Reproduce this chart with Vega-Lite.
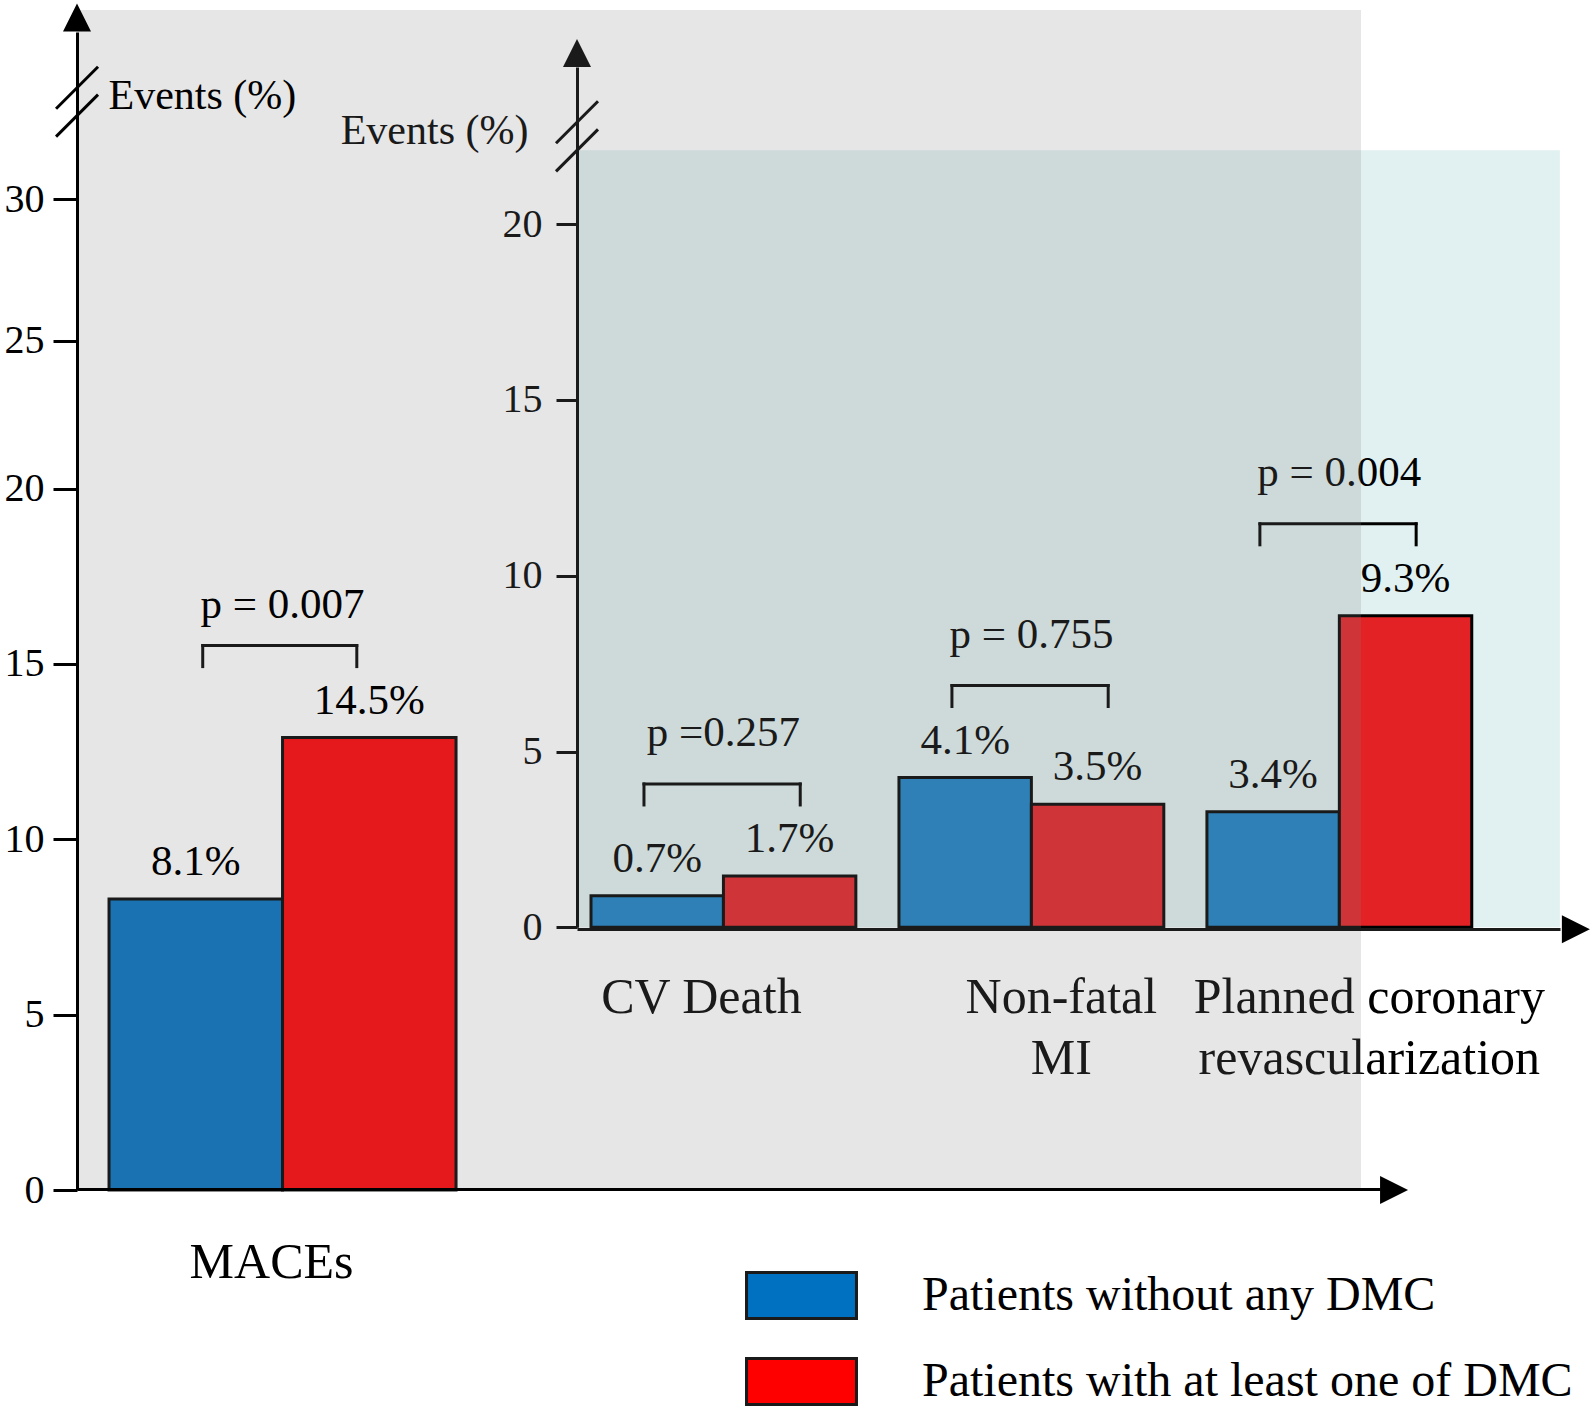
{
  "$schema": "https://vega.github.io/schema/vega-lite/v6.json",
  "width": 1284,
  "height": 1179,
  "autosize": {"type": "none"},
  "padding": {"left": 77, "top": 10, "right": 232, "bottom": 225},
  "background": "#ffffff",
  "config": {
    "font": "Liberation Serif",
    "view": {"stroke": null},
    "axis": {"grid": false, "labelOverlap": false, "titleFontWeight": "normal", "labelFontWeight": "normal", "labelLimit": 0}
  },
  "datasets": {
    "macesBars": [
      {"category": "MACEs", "group": "Patients without any DMC", "events": 8.3, "label": "8.1%", "p": "p = 0.007"},
      {"category": "MACEs", "group": "Patients with at least one of DMC", "events": 12.9, "label": "14.5%", "p": "p = 0.007"}
    ],
    "componentBars": [
      {"category": "CV Death", "group": "Patients without any DMC", "events": 0.9, "label": "0.7%", "p": "p =0.257"},
      {"category": "CV Death", "group": "Patients with at least one of DMC", "events": 1.46, "label": "1.7%", "p": "p =0.257"},
      {"category": "Non-fatal MI", "group": "Patients without any DMC", "events": 4.26, "label": "4.1%", "p": "p = 0.755"},
      {"category": "Non-fatal MI", "group": "Patients with at least one of DMC", "events": 3.5, "label": "3.5%", "p": "p = 0.755"},
      {"category": "Planned coronary revascularization", "group": "Patients without any DMC", "events": 3.29, "label": "3.4%", "p": "p = 0.004"},
      {"category": "Planned coronary revascularization", "group": "Patients with at least one of DMC", "events": 8.86, "label": "9.3%", "p": "p = 0.004"}
    ],
    "componentLabels": [
      {"category": "CV Death", "text": "CV Death"},
      {"category": "Non-fatal MI", "text": "Non-fatal\nMI"},
      {"category": "Planned coronary revascularization", "text": "Planned coronary\nrevascularization"}
    ]
  },
  "layer": [
    {
      "data": {"name": "componentBars"},
      "layer": [
        {
          "data": {"values": [{}]},
          "mark": {"type": "rect", "fill": "#e1f1f1"},
          "encoding": {
            "x": {"datum": "CV Death", "bandPosition": -0.0529},
            "x2": {"datum": "Planned coronary revascularization", "bandPosition": 1.3328},
            "y": {"datum": 0},
            "y2": {"datum": 22.1}
          }
        },
        {
          "mark": {"type": "bar", "stroke": "#000000", "strokeWidth": 3},
          "encoding": {
            "x": {
              "field": "category", "type": "nominal",
              "scale": {"domain": ["CV Death", "Non-fatal MI", "Planned coronary revascularization"], "range": [500, 1483], "paddingInner": 0.14, "paddingOuter": 0.166, "align": 0.137},
              "axis": {"orient": "bottom", "offset": -260, "domain": true, "domainWidth": 3, "domainColor": "#1a1a1a", "ticks": false, "labels": false, "title": null, "zindex": 1}
            },
            "xOffset": {"field": "group", "type": "nominal", "scale": {"domain": ["Patients without any DMC", "Patients with at least one of DMC"], "paddingInner": 0, "paddingOuter": 0}},
            "y": {
              "field": "events", "type": "quantitative",
              "scale": {"domain": [0, 24.47], "range": [917.3, 57], "nice": false, "zero": false},
              "axis": {"orient": "left", "offset": -500, "values": [0, 5, 10, 15, 20], "tickSize": 21, "tickWidth": 3, "tickColor": "#1a1a1a", "domainWidth": 3, "domainColor": "#1a1a1a", "labelFontSize": 40, "labelPadding": 14, "labelColor": "#1a1a1a", "title": "Events (%)", "titleAngle": 0, "titleX": -49, "titleY": 133, "titleAlign": "right", "titleBaseline": "alphabetic", "titleFontSize": 42, "titleColor": "#1a1a1a", "zindex": 1}
            },
            "color": {"field": "group", "type": "nominal", "scale": {"domain": ["Patients without any DMC", "Patients with at least one of DMC"], "range": ["#1a80c5", "#e32226"]}, "legend": null}
          }
        },
        {
          "mark": {"type": "text", "baseline": "alphabetic", "dy": -24, "fontSize": 43},
          "encoding": {
            "x": {"field": "category", "type": "nominal"},
            "xOffset": {"field": "group", "type": "nominal"},
            "y": {"field": "events", "type": "quantitative"},
            "text": {"field": "label"}
          }
        },
        {
          "mark": {"type": "text", "baseline": "alphabetic", "dy": -130, "fontSize": 43},
          "encoding": {
            "x": {"field": "category", "type": "nominal"},
            "y": {"aggregate": "max", "field": "events", "type": "quantitative"},
            "text": {"field": "p"}
          }
        },
        {
          "mark": {"type": "rule", "strokeWidth": 3, "color": "#000000", "strokeCap": "square", "yOffset": -92},
          "encoding": {
            "x": {"field": "category", "type": "nominal", "bandPosition": 0.2},
            "x2": {"field": "category", "bandPosition": 0.79},
            "y": {"aggregate": "max", "field": "events", "type": "quantitative"}
          }
        },
        {
          "mark": {"type": "rule", "strokeWidth": 3, "color": "#000000", "strokeCap": "square", "yOffset": -92, "y2Offset": -71},
          "encoding": {
            "x": {"field": "category", "type": "nominal", "bandPosition": 0.2},
            "y": {"aggregate": "max", "field": "events", "type": "quantitative"},
            "y2": {"aggregate": "max", "field": "events"}
          }
        },
        {
          "mark": {"type": "rule", "strokeWidth": 3, "color": "#000000", "strokeCap": "square", "yOffset": -92, "y2Offset": -71},
          "encoding": {
            "x": {"field": "category", "type": "nominal", "bandPosition": 0.79},
            "y": {"aggregate": "max", "field": "events", "type": "quantitative"},
            "y2": {"aggregate": "max", "field": "events"}
          }
        },
        {
          "data": {"name": "componentLabels"},
          "transform": [{"filter": "datum.category === 'CV Death'"}],
          "mark": {"type": "text", "baseline": "alphabetic", "fontSize": 50, "lineBreak": "\n", "lineHeight": 61, "dx": -22},
          "encoding": {
            "x": {"field": "category", "type": "nominal"},
            "y": {"datum": -2.44},
            "text": {"field": "text"}
          }
        },
        {
          "data": {"name": "componentLabels"},
          "transform": [{"filter": "datum.category !== 'CV Death'"}],
          "mark": {"type": "text", "baseline": "alphabetic", "fontSize": 50, "lineBreak": "\n", "lineHeight": 61, "dx": 30},
          "encoding": {
            "x": {"field": "category", "type": "nominal"},
            "y": {"datum": -2.44},
            "text": {"field": "text"}
          }
        },
        {
          "data": {"values": [{}]},
          "mark": {"type": "point", "shape": "M0,-1L1,1L-1,1Z", "size": 784, "filled": true, "color": "#000000", "opacity": 1},
          "encoding": {
            "x": {"datum": "CV Death", "bandPosition": -0.0529},
            "y": {"datum": 24.87}
          }
        },
        {
          "data": {"values": [{}]},
          "mark": {"type": "point", "shape": "M-1,-1L1,0L-1,1Z", "size": 784, "filled": true, "color": "#000000", "opacity": 1, "yOffset": 2},
          "encoding": {
            "x": {"datum": "Planned coronary revascularization", "bandPosition": 1.393},
            "y": {"datum": 0}
          }
        },
        {
          "data": {"values": [{}]},
          "mark": {"type": "rule", "strokeWidth": 3, "color": "#000000", "xOffset": -21, "x2Offset": 21, "yOffset": 21, "y2Offset": -21},
          "encoding": {
            "x": {"datum": "CV Death", "bandPosition": -0.0529},
            "x2": {"datum": "CV Death", "bandPosition": -0.0529},
            "y": {"datum": 22.9},
            "y2": {"datum": 22.9}
          }
        },
        {
          "data": {"values": [{}]},
          "mark": {"type": "rule", "strokeWidth": 3, "color": "#000000", "xOffset": -21, "x2Offset": 21, "yOffset": 21, "y2Offset": -21},
          "encoding": {
            "x": {"datum": "CV Death", "bandPosition": -0.0529},
            "x2": {"datum": "CV Death", "bandPosition": -0.0529},
            "y": {"datum": 22.1},
            "y2": {"datum": 22.1}
          }
        }
      ]
    },
    {
      "data": {"values": [{}]},
      "mark": {"type": "rect", "fill": "#808080", "fillOpacity": 0.2},
      "encoding": {}
    },
    {
      "data": {"name": "macesBars"},
      "layer": [
        {
          "mark": {"type": "bar", "stroke": "#1a1a1a", "strokeWidth": 3},
          "encoding": {
            "x": {
              "field": "category", "type": "nominal",
              "scale": {"domain": ["MACEs"], "range": [0, 1303], "paddingInner": 0.274, "paddingOuter": 1, "align": 0.0335},
              "axis": {"orient": "bottom", "domain": true, "domainWidth": 3, "domainColor": "#000000", "ticks": false, "tickSize": 0, "labelFontSize": 50, "labelPadding": 88, "labelBaseline": "alphabetic", "labelOffset": -11, "labelColor": "#000000", "labelAngle": 0, "title": null, "zindex": 1}
            },
            "xOffset": {"field": "group", "type": "nominal", "scale": {"domain": ["Patients without any DMC", "Patients with at least one of DMC"], "paddingInner": 0, "paddingOuter": 0}},
            "y": {
              "field": "events", "type": "quantitative",
              "scale": {"domain": [0, 20, 25, 30, 36], "range": [1180, 478.6, 330.7, 189.3, 22], "nice": false, "zero": false},
              "axis": {"orient": "left", "values": [0, 5, 10, 15, 20, 25, 30], "tickSize": 24, "tickWidth": 3, "tickColor": "#000000", "domainWidth": 3, "domainColor": "#000000", "labelFontSize": 40, "labelPadding": 9, "labelColor": "#000000", "title": "Events (%)", "titleAngle": 0, "titleX": 31, "titleY": 98, "titleAlign": "left", "titleBaseline": "alphabetic", "titleFontSize": 42, "titleColor": "#000000", "zindex": 1}
            },
            "color": {"field": "group", "type": "nominal", "scale": {"domain": ["Patients without any DMC", "Patients with at least one of DMC"], "range": ["#1a72b3", "#e5191b"]}, "legend": null}
          }
        },
        {
          "mark": {"type": "text", "baseline": "alphabetic", "dy": -24, "fontSize": 43},
          "encoding": {
            "x": {"field": "category", "type": "nominal"},
            "xOffset": {"field": "group", "type": "nominal"},
            "y": {"field": "events", "type": "quantitative"},
            "text": {"field": "label"}
          }
        },
        {
          "mark": {"type": "text", "baseline": "alphabetic", "dy": -120, "fontSize": 43},
          "encoding": {
            "x": {"field": "category", "type": "nominal"},
            "y": {"aggregate": "max", "field": "events", "type": "quantitative"},
            "text": {"field": "p"}
          }
        },
        {
          "mark": {"type": "rule", "strokeWidth": 3, "color": "#1a1a1a", "strokeCap": "square", "yOffset": -92},
          "encoding": {
            "x": {"field": "category", "type": "nominal", "bandPosition": 0.27},
            "x2": {"field": "category", "bandPosition": 0.714},
            "y": {"aggregate": "max", "field": "events", "type": "quantitative"}
          }
        },
        {
          "mark": {"type": "rule", "strokeWidth": 3, "color": "#1a1a1a", "strokeCap": "square", "yOffset": -92, "y2Offset": -71},
          "encoding": {
            "x": {"field": "category", "type": "nominal", "bandPosition": 0.27},
            "y": {"aggregate": "max", "field": "events", "type": "quantitative"},
            "y2": {"aggregate": "max", "field": "events"}
          }
        },
        {
          "mark": {"type": "rule", "strokeWidth": 3, "color": "#1a1a1a", "strokeCap": "square", "yOffset": -92, "y2Offset": -71},
          "encoding": {
            "x": {"field": "category", "type": "nominal", "bandPosition": 0.714},
            "y": {"aggregate": "max", "field": "events", "type": "quantitative"},
            "y2": {"aggregate": "max", "field": "events"}
          }
        },
        {
          "data": {"values": [{}]},
          "mark": {"type": "point", "shape": "M0,-1L1,1L-1,1Z", "size": 784, "filled": true, "color": "#000000", "opacity": 1},
          "encoding": {
            "x": {"datum": "MACEs", "bandPosition": -0.0922},
            "y": {"datum": 36.52}
          }
        },
        {
          "data": {"values": [{}]},
          "mark": {"type": "point", "shape": "M-1,-1L1,0L-1,1Z", "size": 784, "filled": true, "color": "#000000", "opacity": 1},
          "encoding": {
            "x": {"datum": "MACEs", "bandPosition": 3.703},
            "y": {"datum": 0}
          }
        },
        {
          "data": {"values": [{}]},
          "mark": {"type": "rule", "strokeWidth": 3, "color": "#000000", "xOffset": -21, "x2Offset": 21, "yOffset": 21, "y2Offset": -21},
          "encoding": {
            "x": {"datum": "MACEs", "bandPosition": -0.0922},
            "x2": {"datum": "MACEs", "bandPosition": -0.0922},
            "y": {"datum": 34},
            "y2": {"datum": 34}
          }
        },
        {
          "data": {"values": [{}]},
          "mark": {"type": "rule", "strokeWidth": 3, "color": "#000000", "xOffset": -21, "x2Offset": 21, "yOffset": 21, "y2Offset": -21},
          "encoding": {
            "x": {"datum": "MACEs", "bandPosition": -0.0922},
            "x2": {"datum": "MACEs", "bandPosition": -0.0922},
            "y": {"datum": 33},
            "y2": {"datum": 33}
          }
        }
      ]
    },
    {
      "data": {"name": "macesBars"},
      "mark": {"type": "text", "text": ""},
      "encoding": {
        "color": {
          "field": "group", "type": "nominal",
          "scale": {"domain": ["Patients without any DMC", "Patients with at least one of DMC"], "range": ["#0070c0", "#ff0000"]},
          "legend": {"orient": "none", "legendX": 688, "legendY": 1249, "direction": "vertical", "title": null, "padding": 0, "symbolType": "M-1.571,-0.657H1.571V0.657H-1.571Z", "symbolSize": 4900, "symbolStrokeColor": "#1a1a1a", "symbolStrokeWidth": 3, "symbolOpacity": 1, "labelFontSize": 48, "labelFont": "Liberation Serif", "labelColor": "#000000", "labelOffset": 84, "labelLimit": 0, "rowPadding": 20}
        }
      }
    }
  ],
  "resolve": {
    "scale": {"x": "independent", "y": "independent", "xOffset": "independent", "color": "independent"},
    "axis": {"x": "independent", "y": "independent"},
    "legend": {"color": "independent"}
  }
}
